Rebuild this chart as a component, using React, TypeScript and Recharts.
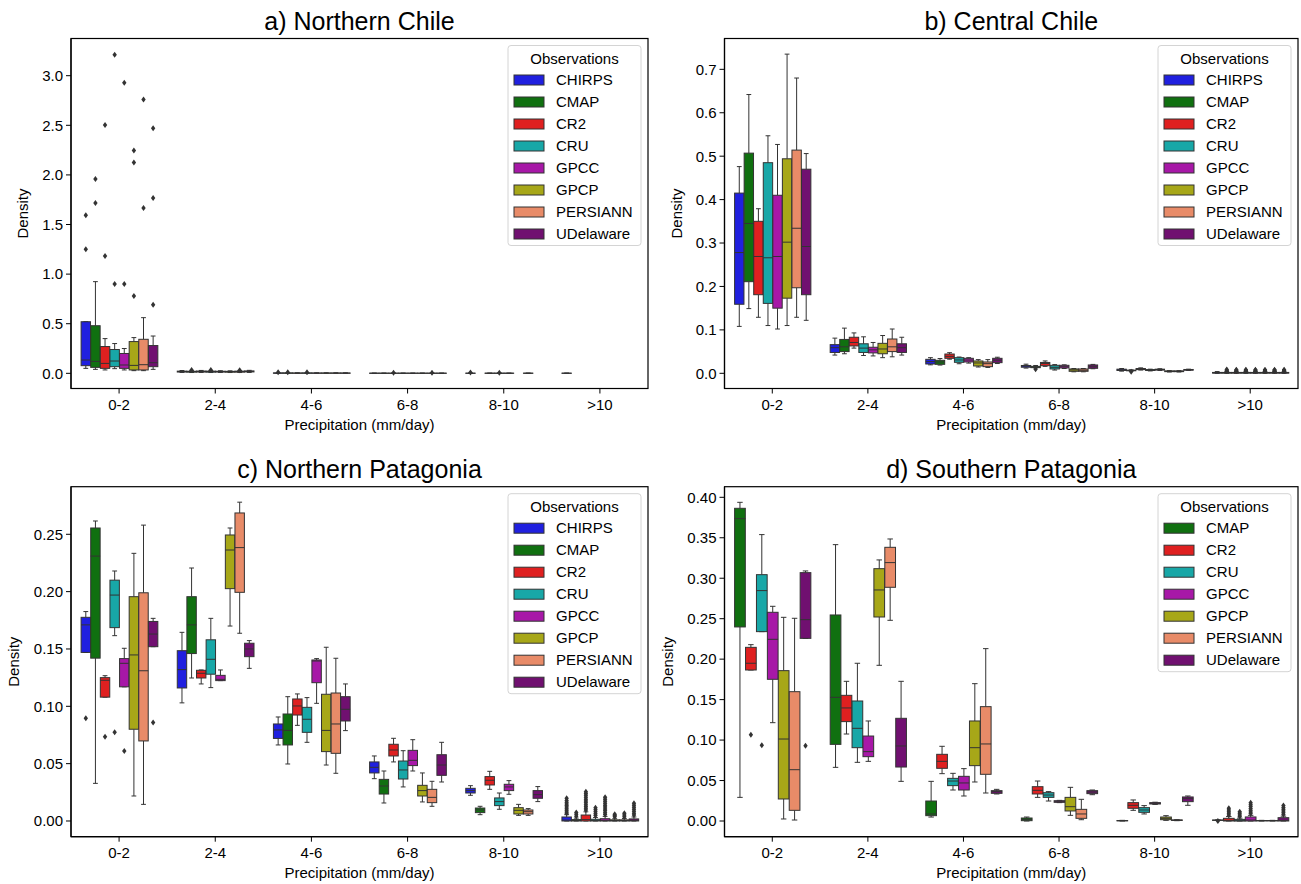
import { Bar, ComposedChart, XAxis, YAxis } from "recharts";

// [whisker low, q1, median, q3, whisker high, outliers]
type BoxStat = [number, number, number, number, number, number[]?];
type Cell = BoxStat | null;

const FONT = "'Liberation Sans', Arial, Helvetica, sans-serif";
const EDGE = "#333333";
const FS = 15;

const CATEGORIES = ["0-2", "2-4", "4-6", "6-8", "8-10", ">10"];
const ALL_SERIES = ["CHIRPS", "CMAP", "CR2", "CRU", "GPCC", "GPCP", "PERSIANN", "UDelaware"];
const SOUTH_SERIES = ["CMAP", "CR2", "CRU", "GPCC", "GPCP", "PERSIANN", "UDelaware"];

const COLORS: Record<string, string> = {
  CHIRPS: "#2020df",
  CMAP: "#107010",
  CR2: "#df2020",
  CRU: "#18a7a7",
  GPCC: "#a718a7",
  GPCP: "#a7a718",
  PERSIANN: "#e88b68",
  UDelaware: "#701070",
};

// a) Northern Chile
const nChileCHIRPS: Cell[] = [
  [0.05, 0.077, 0.134, 0.52, 0.52, [1.25, 1.593]],
  [0.009, 0.013, 0.018, 0.022, 0.028],
  [0, 0.001, 0.002, 0.004, 0.006, [0.011]],
  [0, 0.0005, 0.001, 0.0015, 0.002],
  [0, 0.0005, 0.001, 0.0015, 0.002, [0.008]],
  [0, 0.0005, 0.001, 0.0015, 0.002],
];
const nChileCMAP: Cell[] = [
  [0.04, 0.06, 0.12, 0.48, 0.924, [1.717, 1.96]],
  [0.008, 0.012, 0.017, 0.021, 0.027, [0.034]],
  [0, 0.001, 0.002, 0.004, 0.006, [0.011]],
  [0, 0.0005, 0.001, 0.0015, 0.002],
  null,
  null,
];
const nChileCR2: Cell[] = [
  [0.034, 0.05, 0.1, 0.27, 0.35, [1.183, 2.503]],
  [0.009, 0.013, 0.018, 0.023, 0.029],
  [0, 0.001, 0.002, 0.003, 0.005],
  [0, 0.0005, 0.001, 0.0015, 0.002, [0.006]],
  [0, 0.0005, 0.001, 0.0015, 0.002],
  null,
];
const nChileCRU: Cell[] = [
  [0.047, 0.067, 0.124, 0.24, 0.3, [0.9, 3.21]],
  [0.008, 0.012, 0.017, 0.022, 0.028, [0.033]],
  [0, 0.001, 0.002, 0.004, 0.006, [0.012]],
  [0, 0.0005, 0.001, 0.0015, 0.002],
  [0, 0.0005, 0.001, 0.0015, 0.002, [0.007]],
  null,
];
const nChileGPCC: Cell[] = [
  [0.034, 0.05, 0.084, 0.2, 0.25, [0.9, 2.93]],
  [0.009, 0.013, 0.017, 0.021, 0.026],
  [0, 0.001, 0.002, 0.003, 0.005],
  [0, 0.0005, 0.001, 0.0015, 0.002],
  [0, 0.0005, 0.001, 0.0015, 0.002],
  null,
];
const nChileGPCP: Cell[] = [
  [0.027, 0.034, 0.08, 0.32, 0.36, [0.78, 2.124, 2.245]],
  [0.008, 0.012, 0.016, 0.02, 0.025],
  [0, 0.001, 0.002, 0.003, 0.005],
  [0, 0.0005, 0.001, 0.0015, 0.002],
  null,
  null,
];
const nChilePERSIANN: Cell[] = [
  [0.027, 0.034, 0.087, 0.343, 0.561, [1.667, 2.76]],
  [0.008, 0.012, 0.017, 0.022, 0.027, [0.032]],
  [0, 0.001, 0.002, 0.003, 0.005],
  [0, 0.0005, 0.001, 0.0015, 0.002, [0.006]],
  [0, 0.0005, 0.001, 0.0015, 0.002],
  null,
];
const nChileUDelaware: Cell[] = [
  [0.04, 0.067, 0.107, 0.28, 0.376, [0.692, 1.767, 2.47]],
  [0.009, 0.014, 0.019, 0.024, 0.03],
  [0, 0.001, 0.002, 0.003, 0.005],
  [0, 0.0005, 0.001, 0.0015, 0.002],
  null,
  null,
];

// b) Central Chile
const cChileCHIRPS: Cell[] = [
  [0.108, 0.159, 0.278, 0.415, 0.476],
  [0.042, 0.048, 0.059, 0.066, 0.081],
  [0.0195, 0.0214, 0.027, 0.0322, 0.036],
  [0.012, 0.014, 0.0165, 0.018, 0.021],
  [0.005, 0.0065, 0.008, 0.0095, 0.011],
  [0, 0.0005, 0.001, 0.002, 0.004],
];
const cChileCMAP: Cell[] = [
  [0.149, 0.211, 0.345, 0.507, 0.642],
  [0.045, 0.05, 0.061, 0.078, 0.104],
  [0.019, 0.0207, 0.026, 0.0299, 0.034],
  [0.0125, 0.013, 0.0145, 0.016, 0.018, [0.0095]],
  [0.005, 0.0058, 0.0065, 0.0072, 0.008, [0.0035]],
  [0, 0.0005, 0.001, 0.002, 0.004, [0.0055, 0.007, 0.0085]],
];
const cChileCR2: Cell[] = [
  [0.129, 0.181, 0.269, 0.35, 0.379],
  [0.058, 0.063, 0.071, 0.083, 0.093],
  [0.0325, 0.0345, 0.039, 0.0444, 0.0475],
  [0.016, 0.0175, 0.0225, 0.025, 0.0285],
  [0.0075, 0.0085, 0.0095, 0.011, 0.0125],
  [0, 0.0005, 0.001, 0.002, 0.004, [0.0055, 0.0068, 0.008]],
];
const cChileCRU: Cell[] = [
  [0.11, 0.161, 0.266, 0.485, 0.547],
  [0.041, 0.048, 0.058, 0.068, 0.084],
  [0.022, 0.0253, 0.0307, 0.036, 0.0375],
  [0.0075, 0.01, 0.0138, 0.0184, 0.02],
  [0.0055, 0.0065, 0.0075, 0.0085, 0.0095],
  [0, 0.0005, 0.001, 0.002, 0.004, [0.0056, 0.007, 0.0084]],
];
const cChileGPCC: Cell[] = [
  [0.102, 0.15, 0.269, 0.41, 0.527],
  [0.04, 0.047, 0.054, 0.06, 0.071],
  [0.0235, 0.0261, 0.0305, 0.0345, 0.036],
  [0.011, 0.0123, 0.0153, 0.0184, 0.0195],
  [0.0065, 0.0075, 0.0085, 0.0095, 0.0105],
  [0, 0.0005, 0.001, 0.002, 0.004, [0.0055, 0.0069, 0.0083]],
];
const cChileGPCP: Cell[] = [
  [0.11, 0.173, 0.302, 0.494, 0.735],
  [0.036, 0.045, 0.056, 0.069, 0.087],
  [0.0145, 0.0169, 0.0238, 0.0284, 0.0315],
  [0.0035, 0.0046, 0.0077, 0.01, 0.011],
  [0.003, 0.0038, 0.0046, 0.0055, 0.0062],
  [0, 0.0005, 0.001, 0.002, 0.004, [0.0054, 0.0067, 0.008]],
];
const cChilePERSIANN: Cell[] = [
  [0.129, 0.197, 0.334, 0.514, 0.68],
  [0.038, 0.05, 0.061, 0.079, 0.102],
  [0.0135, 0.0153, 0.0222, 0.0261, 0.0315],
  [0.0035, 0.0046, 0.007, 0.01, 0.011],
  [0.003, 0.0038, 0.0046, 0.0055, 0.0062],
  [0, 0.0005, 0.001, 0.002, 0.004, [0.0055, 0.0068, 0.0081]],
];
const cChileUDelaware: Cell[] = [
  [0.122, 0.181, 0.292, 0.47, 0.506],
  [0.042, 0.048, 0.059, 0.068, 0.083],
  [0.0225, 0.0245, 0.03, 0.0345, 0.037],
  [0.0105, 0.0115, 0.0153, 0.0192, 0.0205],
  [0.0065, 0.0072, 0.008, 0.0088, 0.0095],
  [0, 0.0005, 0.001, 0.002, 0.004, [0.0056, 0.0069, 0.0082]],
];

// c) Northern Patagonia
const nPatCHIRPS: Cell[] = [
  [0.147, 0.147, 0.171, 0.1776, 0.1826, [0.0895]],
  [0.103, 0.116, 0.132, 0.1485, 0.1645],
  [0.0663, 0.072, 0.0794, 0.0846, 0.0907],
  [0.0369, 0.0419, 0.0468, 0.0515, 0.0567],
  [0.0224, 0.0244, 0.0265, 0.0285, 0.0308],
  [0, 0, 0.0008, 0.0035, 0.0055, [0.0068, 0.0079, 0.0093, 0.0106, 0.0121, 0.0134, 0.0149, 0.0163, 0.0178, 0.0198]],
];
const nPatCMAP: Cell[] = [
  [0.0328, 0.142, 0.231, 0.2555, 0.2616],
  [0.1247, 0.146, 0.171, 0.1956, 0.2206],
  [0.0497, 0.0663, 0.079, 0.0933, 0.1084],
  [0.0157, 0.0235, 0.0305, 0.0363, 0.0436],
  [0.0055, 0.0073, 0.0096, 0.0113, 0.0128],
  [0, 0, 0.0005, 0.0012, 0.0025, [0.0042, 0.0058, 0.0073]],
];
const nPatCR2: Cell[] = [
  [0.108, 0.108, 0.1227, 0.125, 0.1267, [0.0735]],
  [0.1195, 0.1247, 0.1288, 0.1314, 0.1317],
  [0.0834, 0.0924, 0.1003, 0.1064, 0.1108],
  [0.0515, 0.0567, 0.0619, 0.0669, 0.0721],
  [0.0276, 0.0314, 0.0355, 0.0387, 0.0433],
  [0, 0, 0.0012, 0.0052, 0.008, [0.0096, 0.011, 0.0127, 0.0142, 0.0158, 0.0175, 0.019, 0.0207, 0.0224, 0.024, 0.0256]],
];
const nPatCRU: Cell[] = [
  [0.1616, 0.1686, 0.197, 0.21, 0.218, [0.0773]],
  [0.1163, 0.128, 0.141, 0.158, 0.1767],
  [0.0686, 0.0773, 0.0887, 0.0991, 0.1076],
  [0.0297, 0.0366, 0.0445, 0.0523, 0.0613],
  [0.0102, 0.0134, 0.0169, 0.0201, 0.0244],
  [0, 0, 0.0005, 0.0015, 0.003, [0.0047, 0.0064, 0.0081, 0.0098, 0.0116]],
];
const nPatGPCC: Cell[] = [
  [0.117, 0.117, 0.1375, 0.1416, 0.1506, [0.061]],
  [0.1224, 0.1224, 0.1235, 0.127, 0.1317],
  [0.1026, 0.1206, 0.1395, 0.1404, 0.1416],
  [0.0436, 0.0483, 0.0529, 0.0616, 0.0709],
  [0.0233, 0.0265, 0.0297, 0.032, 0.0352],
  [0, 0, 0.0006, 0.002, 0.004, [0.0056, 0.0072, 0.0089, 0.0105, 0.0121, 0.0138, 0.0155, 0.0172, 0.0189, 0.0206]],
];
const nPatGPCP: Cell[] = [
  [0.0218, 0.08, 0.1448, 0.1956, 0.2334],
  [0.17, 0.2026, 0.2363, 0.2494, 0.2555],
  [0.0488, 0.0605, 0.079, 0.1105, 0.1515],
  [0.0166, 0.0218, 0.0265, 0.0311, 0.0419],
  [0.0049, 0.0061, 0.0093, 0.0116, 0.0145],
  [0, 0, 0.0004, 0.001, 0.002, [0.0036, 0.0048, 0.0058]],
];
const nPatPERSIANN: Cell[] = [
  [0.0145, 0.0698, 0.131, 0.199, 0.258],
  [0.1637, 0.1994, 0.2384, 0.2686, 0.278],
  [0.0416, 0.059, 0.0846, 0.1116, 0.1419],
  [0.0128, 0.016, 0.0206, 0.0276, 0.0346],
  [0.0049, 0.0061, 0.0081, 0.0096, 0.0108],
  [0, 0, 0.0004, 0.001, 0.0022, [0.0038, 0.0052, 0.0067]],
];
const nPatUDelaware: Cell[] = [
  [0.152, 0.152, 0.163, 0.174, 0.1767, [0.0858]],
  [0.1331, 0.1433, 0.15, 0.155, 0.1573],
  [0.0788, 0.0872, 0.0974, 0.1084, 0.1195],
  [0.034, 0.0398, 0.0488, 0.0578, 0.0686],
  [0.0169, 0.0198, 0.023, 0.0265, 0.03],
  [0, 0, 0.0006, 0.0018, 0.0035, [0.0052, 0.0068, 0.0085, 0.0102, 0.0119, 0.0137, 0.0154]],
];

// d) Southern Patagonia
const sPatCMAP: Cell[] = [
  [0.0292, 0.2398, 0.3736, 0.3864, 0.3938],
  [0.0663, 0.0947, 0.1528, 0.2546, 0.3415],
  [0.0049, 0.0066, 0.0087, 0.0247, 0.049],
  [0, 0.0004, 0.002, 0.0037, 0.0049],
  [0, 0.0002, 0.0004, 0.0006, 0.0008],
  [0.0006, 0.0008, 0.001, 0.0012, 0.0014, [0]],
];
const sPatCR2: Cell[] = [
  [0.1866, 0.1866, 0.1949, 0.2146, 0.2179, [0.1067]],
  [0.1075, 0.1228, 0.1397, 0.1553, 0.1726],
  [0.0585, 0.0651, 0.0737, 0.0824, 0.0923],
  [0.0292, 0.0334, 0.0379, 0.0424, 0.0494],
  [0.0132, 0.0157, 0.0194, 0.0227, 0.026],
  [0, 0, 0.0008, 0.0033, 0.0055, [0.0075, 0.0095, 0.0115, 0.0136, 0.0157]],
];
const sPatCRU: Cell[] = [
  [0.234, 0.234, 0.2847, 0.3044, 0.3539, [0.0935]],
  [0.0725, 0.0906, 0.1145, 0.1483, 0.1949],
  [0.0383, 0.0437, 0.0494, 0.0527, 0.0589],
  [0.0247, 0.0292, 0.0321, 0.035, 0.0363],
  [0.0087, 0.0107, 0.0136, 0.0165, 0.019],
  [0, 0, 0.0004, 0.002, 0.0035, [0.0055, 0.0075, 0.0095, 0.0115]],
];
const sPatGPCC: Cell[] = [
  [0.1215, 0.1751, 0.2245, 0.2579, 0.2653],
  [0.0737, 0.0795, 0.0857, 0.105, 0.1236],
  [0.0309, 0.0383, 0.047, 0.0552, 0.0647],
  [0.0227, 0.0231, 0.0239, 0.0251, 0.0255],
  [0.0205, 0.021, 0.0218, 0.0227, 0.0232],
  [0, 0, 0.0012, 0.005, 0.007, [0.0092, 0.0112, 0.0133, 0.0155, 0.0178, 0.0202, 0.0227]],
];
const sPatGPCP: Cell[] = [
  [0.0025, 0.0272, 0.1013, 0.1858, 0.2517],
  [0.1924, 0.2521, 0.2855, 0.3118, 0.3226],
  [0.0482, 0.0684, 0.0906, 0.1236, 0.1697],
  [0.007, 0.0124, 0.0177, 0.0292, 0.0416],
  [0.0008, 0.0016, 0.0033, 0.0049, 0.0066],
  [0, 0.0002, 0.0004, 0.0006, 0.0008],
];
const sPatPERSIANN: Cell[] = [
  [0.0012, 0.0132, 0.0634, 0.1598, 0.2505],
  [0.248, 0.2888, 0.3193, 0.3382, 0.3485],
  [0.0346, 0.0577, 0.0952, 0.1413, 0.213],
  [0.0016, 0.0033, 0.0087, 0.0144, 0.0268],
  [0.0004, 0.0007, 0.001, 0.0013, 0.0016],
  [0, 0.0002, 0.0004, 0.0006, 0.0008],
];
const sPatUDelaware: Cell[] = [
  [0.2257, 0.2257, 0.2488, 0.3069, 0.309, [0.0931]],
  [0.049, 0.0667, 0.0927, 0.1269, 0.1726],
  [0.0334, 0.0342, 0.0363, 0.0375, 0.0391],
  [0.0325, 0.0338, 0.0358, 0.0375, 0.0383],
  [0.0194, 0.0239, 0.0276, 0.0297, 0.0309],
  [0, 0, 0.0008, 0.0041, 0.006, [0.008, 0.0101, 0.0123, 0.0145, 0.0167, 0.019]],
];

type PanelCfg = {
  title: string;
  series: string[];
  data: Record<string, Cell[]>;
  domain: [number, number];
  ticks: number[];
  digits: number;
  box: [number, number, number, number];
  plot: [number, number, number, number];
  yLabelX: number;
  titleY: number;
};

const PANELS: PanelCfg[] = [
  {
    title: "a) Northern Chile",
    series: ALL_SERIES,
    data: {
      CHIRPS: nChileCHIRPS, CMAP: nChileCMAP, CR2: nChileCR2, CRU: nChileCRU,
      GPCC: nChileGPCC, GPCP: nChileGPCP, PERSIANN: nChilePERSIANN, UDelaware: nChileUDelaware,
    },
    domain: [-0.153, 3.375],
    ticks: [0, 0.5, 1, 1.5, 2, 2.5, 3],
    digits: 1,
    box: [0, 0, 651, 443],
    plot: [71, 38.5, 577, 350],
    yLabelX: 27.5,
    titleY: 29.5,
  },
  {
    title: "b) Central Chile",
    series: ALL_SERIES,
    data: {
      CHIRPS: cChileCHIRPS, CMAP: cChileCMAP, CR2: cChileCR2, CRU: cChileCRU,
      GPCC: cChileGPCC, GPCP: cChileGPCP, PERSIANN: cChilePERSIANN, UDelaware: cChileUDelaware,
    },
    domain: [-0.035, 0.771],
    ticks: [0, 0.1, 0.2, 0.3, 0.4, 0.5, 0.6, 0.7],
    digits: 1,
    box: [651, 0, 650, 443],
    plot: [724.5, 38.5, 573.5, 350],
    yLabelX: 681.5,
    titleY: 29.5,
  },
  {
    title: "c) Northern Patagonia",
    series: ALL_SERIES,
    data: {
      CHIRPS: nPatCHIRPS, CMAP: nPatCMAP, CR2: nPatCR2, CRU: nPatCRU,
      GPCC: nPatGPCC, GPCP: nPatGPCP, PERSIANN: nPatPERSIANN, UDelaware: nPatUDelaware,
    },
    domain: [-0.0137, 0.2915],
    ticks: [0, 0.05, 0.1, 0.15, 0.2, 0.25],
    digits: 2,
    box: [0, 443, 651, 441],
    plot: [71, 486.7, 577, 350],
    yLabelX: 19,
    titleY: 477.5,
  },
  {
    title: "d) Southern Patagonia",
    series: SOUTH_SERIES,
    data: {
      CMAP: sPatCMAP, CR2: sPatCR2, CRU: sPatCRU, GPCC: sPatGPCC,
      GPCP: sPatGPCP, PERSIANN: sPatPERSIANN, UDelaware: sPatUDelaware,
    },
    domain: [-0.0194, 0.4131],
    ticks: [0, 0.05, 0.1, 0.15, 0.2, 0.25, 0.3, 0.35, 0.4],
    digits: 2,
    box: [651, 443, 650, 441],
    plot: [724.5, 486.7, 573.5, 350],
    yLabelX: 673,
    titleY: 477.5,
  },
];

function extentOf(b: Cell | undefined): [number, number] | null {
  if (!b) return null;
  const out = b[5] ?? [];
  return [Math.min(b[0], ...out), Math.max(b[4], ...out)];
}

const boxShape = (series: string) => (props: any) => {
  const b: Cell | undefined = props.payload?.[series];
  const ext = extentOf(b);
  if (!b || !ext) return <g />;
  const { x, y, width, height } = props;
  const top = Math.min(y, y + height);
  const bottom = Math.max(y, y + height);
  const [lo, hi] = ext;
  const py = (v: number) => (hi === lo ? bottom : bottom - ((v - lo) / (hi - lo)) * (bottom - top));
  const [wl, q1, med, q3, wh, out = []] = b;
  const cx = x + width / 2;
  const bx = x + width * 0.01;
  const bw = width * 0.98;
  const cap = width / 4;
  const yq3 = py(q3);
  const yq1 = py(q1);
  return (
    <g>
      <line x1={cx} x2={cx} y1={yq3} y2={py(wh)} stroke={EDGE} strokeWidth={1} />
      <line x1={cx} x2={cx} y1={yq1} y2={py(wl)} stroke={EDGE} strokeWidth={1} />
      <line x1={cx - cap} x2={cx + cap} y1={py(wh)} y2={py(wh)} stroke={EDGE} strokeWidth={1} />
      <line x1={cx - cap} x2={cx + cap} y1={py(wl)} y2={py(wl)} stroke={EDGE} strokeWidth={1} />
      <rect x={bx} y={yq3} width={bw} height={Math.max(yq1 - yq3, 0)} fill={COLORS[series]} stroke={EDGE} strokeWidth={1} />
      <line x1={bx} x2={bx + bw} y1={py(med)} y2={py(med)} stroke={EDGE} strokeWidth={1} />
      {out.map((o, i) => {
        const oy = py(o);
        return (
          <path
            key={i}
            d={`M${cx},${oy - 3}L${cx + 2.2},${oy}L${cx},${oy + 3}L${cx - 2.2},${oy}Z`}
            fill={EDGE}
          />
        );
      })}
    </g>
  );
};

function Panel({ cfg }: { cfg: PanelCfg }) {
  const [bx, by, bw, bh] = cfg.box;
  const [px, py, pw, ph] = cfg.plot;
  const YW = 50;
  const XH = 30;
  const margin = {
    left: px - bx - YW,
    top: py - by,
    right: bx + bw - px - pw,
    bottom: by + bh - py - ph - XH,
  };
  const rows = CATEGORIES.map((c, i) => {
    const r: Record<string, any> = { category: c };
    cfg.series.forEach((s) => (r[s] = cfg.data[s][i]));
    return r;
  });
  const n = cfg.series.length;
  const barSize = ((pw / CATEGORIES.length) * 0.8) / n;

  // local coordinates for the decorations
  const lx = px - bx;
  const ly = py - by;
  const legW = 133;
  const legH = 34.5 + 22 * (n - 1) + 11.5;
  const legX = lx + pw - 7 - legW;
  const legY = ly + 7;

  return (
    <div style={{ position: "absolute", left: bx, top: by }}>
      <ComposedChart
        width={bw}
        height={bh}
        data={rows}
        margin={margin}
        barGap={0}
        barCategoryGap="10%"
        style={{ fontFamily: FONT }}
      >
        <XAxis
          dataKey="category"
          height={XH}
          interval={0}
          tickSize={5}
          tickMargin={6}
          axisLine={{ stroke: "#000", strokeWidth: 1.2 }}
          tickLine={{ stroke: "#000" }}
          tick={{ fill: "#000", fontSize: FS }}
        />
        <YAxis
          type="number"
          domain={cfg.domain}
          ticks={cfg.ticks}
          allowDataOverflow
          width={YW}
          tickSize={5}
          tickMargin={3}
          tickFormatter={(v: number) => v.toFixed(cfg.digits)}
          axisLine={{ stroke: "#000", strokeWidth: 1.2 }}
          tickLine={{ stroke: "#000" }}
          tick={{ fill: "#000", fontSize: FS }}
        />
        {cfg.series.map((s) => (
          <Bar
            key={s}
            name={s}
            dataKey={(r: any) => extentOf(r[s])}
            fill={COLORS[s]}
            barSize={barSize}
            isAnimationActive={false}
            shape={boxShape(s)}
          />
        ))}
        <rect x={lx} y={ly} width={pw} height={ph} fill="none" stroke="#000" strokeWidth={1.2} />
        <text x={lx + pw / 2} y={cfg.titleY - by} textAnchor="middle" fontSize={25} fill="#000" fontFamily={FONT}>
          {cfg.title}
        </text>
        <text x={lx + pw / 2} y={ly + ph + 41.5} textAnchor="middle" fontSize={FS} fill="#000" fontFamily={FONT}>
          Precipitation (mm/day)
        </text>
        <text
          x={cfg.yLabelX - bx}
          y={ly + ph / 2}
          textAnchor="middle"
          fontSize={FS}
          fill="#000"
          fontFamily={FONT}
          transform={`rotate(-90 ${cfg.yLabelX - bx} ${ly + ph / 2})`}
        >
          Density
        </text>
        <g>
          <rect x={legX} y={legY} width={legW} height={legH} rx={3} fill="#fff" fillOpacity={0.8} stroke="#d4d4d4" strokeWidth={1} />
          <text x={legX + legW / 2} y={legY + 18} textAnchor="middle" fontSize={FS} fill="#000" fontFamily={FONT}>
            Observations
          </text>
          {cfg.series.map((s, i) => {
            const cy = legY + 34.5 + 22 * i;
            return (
              <g key={s}>
                <rect x={legX + 6} y={cy - 5} width={30} height={10} fill={COLORS[s]} stroke={EDGE} strokeWidth={1} />
                <text x={legX + 48} y={cy + 5} fontSize={FS} fill="#000" fontFamily={FONT}>
                  {s}
                </text>
              </g>
            );
          })}
        </g>
      </ComposedChart>
    </div>
  );
}

export default function App() {
  return (
    <div style={{ position: "absolute", left: 0, top: 0, width: 1301, height: 884, background: "#fff" }}>
      {PANELS.map((p) => (
        <Panel key={p.title} cfg={p} />
      ))}
    </div>
  );
}
